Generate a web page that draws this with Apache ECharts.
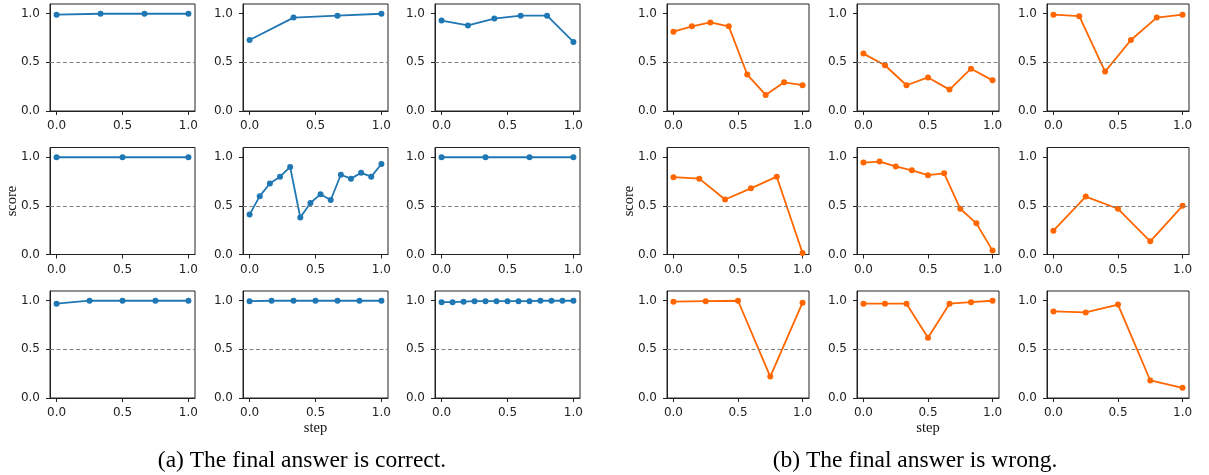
<!DOCTYPE html>
<html><head><meta charset="utf-8">
<script src="https://cdn.jsdelivr.net/npm/echarts@6/dist/echarts.min.js"></script>
<style>html,body{margin:0;padding:0;background:#fff}#c{width:1209px;height:475px}</style>
</head><body><div id="c"></div>
<script>
// tick labels
const xTicks = [0, 0.5, 1.0];
const yTicks = [0, 0.5, 1.0];
const threshold = 0.5;

// (a) The final answer is correct  (score per normalized step)
const correct1 = [0.99, 1.0, 1.0, 1.0];
const correct2 = [0.73, 0.96, 0.98, 1.0];
const correct3 = [0.93, 0.88, 0.95, 0.98, 0.98, 0.71];
const correct4 = [1.0, 1.0, 1.0];
const correct5 = [0.41, 0.60, 0.73, 0.80, 0.90, 0.38, 0.53, 0.62, 0.56, 0.82, 0.78, 0.84, 0.80, 0.93];
const correct6 = [1.0, 1.0, 1.0, 1.0];
const correct7 = [0.97, 1.0, 1.0, 1.0, 1.0];
const correct8 = [0.995, 1.0, 1.0, 1.0, 1.0, 1.0, 1.0];
const correct9 = [0.985, 0.985, 0.99, 0.995, 0.995, 0.995, 0.995, 0.995, 0.995, 1.0, 1.0, 1.0, 1.0];

// (b) The final answer is wrong
const wrong1 = [0.815, 0.87, 0.91, 0.87, 0.375, 0.165, 0.295, 0.265];
const wrong2 = [0.59, 0.47, 0.265, 0.345, 0.22, 0.435, 0.315];
const wrong3 = [0.99, 0.975, 0.405, 0.73, 0.96, 0.99];
const wrong4 = [0.795, 0.78, 0.565, 0.68, 0.80, 0.015];
const wrong5 = [0.945, 0.955, 0.905, 0.865, 0.815, 0.835, 0.47, 0.32, 0.04];
const wrong6 = [0.245, 0.595, 0.47, 0.135, 0.50];
const wrong7 = [0.99, 0.995, 1.0, 0.22, 0.98];
const wrong8 = [0.97, 0.97, 0.97, 0.62, 0.97, 0.985, 1.0];
const wrong9 = [0.89, 0.88, 0.96, 0.18, 0.105];

const captionA = '(a) The final answer is correct.';
const captionB = '(b) The final answer is wrong.';
const xName = 'step';
const yName = 'score';

const groups = [
  {panels:[correct1,correct2,correct3,correct4,correct5,correct6,correct7,correct8,correct9], color:'#1f77b4', lefts:[50,243,435], width:145, labelGap:30},
  {panels:[wrong1,wrong2,wrong3,wrong4,wrong5,wrong6,wrong7,wrong8,wrong9], color:'#ff6600', lefts:[667,857,1047], width:142, labelGap:30}
];
const rowTops = [4, 147.5, 291];
const rowH = 107;

const grid=[], xAxis=[], yAxis=[], series=[];
const axisCol = '#222';
const tickFont = {fontSize:12, fontFamily:'DejaVu Sans', color:'#222'};
let k = 0;
groups.forEach(g => {
  g.panels.forEach((vals, i) => {
    const r = Math.floor(i/3), c = i%3;
    grid.push({left:g.lefts[c], top:rowTops[r], width:g.width, height:rowH, show:true, borderColor:axisCol, borderWidth:1, backgroundColor:'transparent', containLabel:false});
    xAxis.push({type:'value', gridIndex:k, min:-0.05, max:1.05,
      name:(r===2&&c===1)?xName:'', nameLocation:'middle', nameGap:23, nameMoveOverlap:false,
      nameTextStyle:{fontFamily:'Liberation Serif', fontSize:14.5, color:'#111'},
      axisLine:{show:true, onZero:false, lineStyle:{color:axisCol, width:1}},
      axisTick:{show:true, customValues:xTicks, length:4, lineStyle:{color:axisCol}},
      axisLabel:Object.assign({show:true, customValues:xTicks, margin:9, formatter:v=>Number(v).toFixed(1)}, tickFont),
      splitLine:{show:false}});
    yAxis.push({type:'value', gridIndex:k, min:0, max:1.1,
      name:(r===1&&c===0)?yName:'', nameLocation:'middle', nameGap:g.labelGap, nameRotate:90, nameMoveOverlap:false,
      nameTextStyle:{fontFamily:'Liberation Serif', fontSize:14.5, color:'#111'},
      axisLine:{show:true, onZero:false, lineStyle:{color:axisCol, width:1}},
      axisTick:{show:true, customValues:yTicks, length:4, lineStyle:{color:axisCol}},
      axisLabel:Object.assign({show:true, customValues:yTicks, margin:10, formatter:v=>Number(v).toFixed(1)}, tickFont),
      splitLine:{show:false}});
    const n = vals.length;
    series.push({type:'line', xAxisIndex:k, yAxisIndex:k,
      data: vals.map((v,j)=>[j/(n-1), v]),
      symbol:'circle', symbolSize:6, showSymbol:true,
      lineStyle:{color:g.color, width:1.8}, itemStyle:{color:g.color},
      markLine:{silent:true, symbol:['none','none'], label:{show:false},
        lineStyle:{color:'#808080', type:[4,2.5], width:1}, data:[{yAxis:threshold}]},
      z:3});
    k++;
  });
});

const chart = echarts.init(document.getElementById('c'), null, {renderer:'canvas'});
chart.setOption({
  animation:false,
  backgroundColor:'#fff',
  grid, xAxis, yAxis, series,
  graphic:[
    {type:'text', x:302, y:461, style:{text:captionA, fontFamily:'Liberation Serif', fontSize:23.5, fill:'#000', align:'center', verticalAlign:'middle'}},
    {type:'text', x:915, y:461, style:{text:captionB, fontFamily:'Liberation Serif', fontSize:23.5, fill:'#000', align:'center', verticalAlign:'middle'}}
  ]
});
</script></body></html>
